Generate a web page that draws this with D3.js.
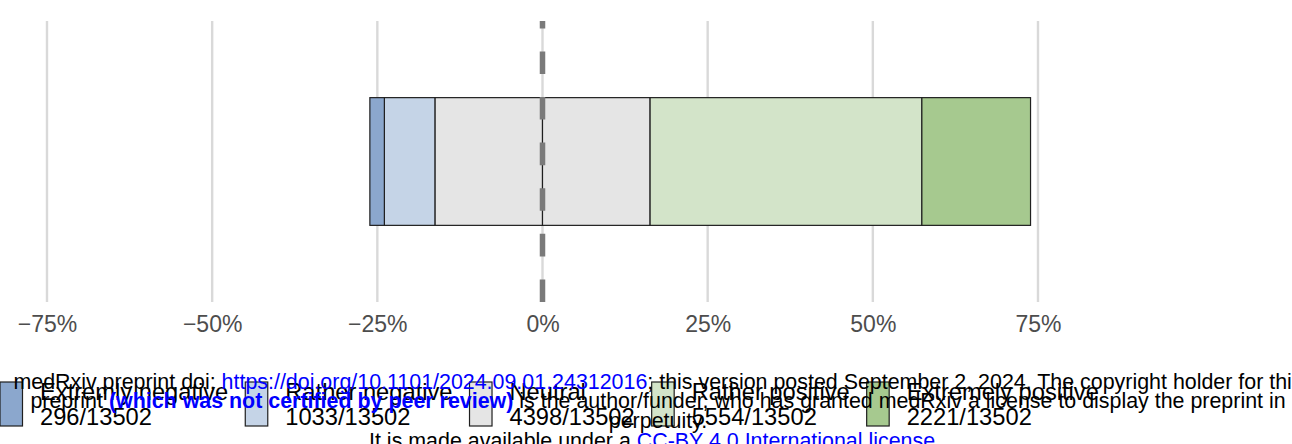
<!DOCTYPE html>
<html>
<head>
<meta charset="utf-8">
<script src="https://cdn.jsdelivr.net/npm/d3@7"></script>
<style>
html,body{margin:0;padding:0;background:#fff;}
svg{display:block;font-family:"Liberation Sans",Arial,sans-serif;}
</style>
</head>
<body>
<svg id="chart" width="1292" height="444"></svg>
<script>
const categories = ["Extremly negative","Rather negative","Neutral","Rather positive","Extremely positive"];
const counts = [296, 1033, 4398, 5554, 2221];
const total = 13502;
const colors = ["#8ba7cd","#c5d4e7","#e5e5e5","#d3e4c9","#a6c98f"];
const tickValues = [-75, -50, -25, 0, 25, 50, 75];
const groups = ["All"];

const svg = d3.select("#chart");
const W = 1292, H = 444;
const panel = {left: 47, right: 1038, top: 21, bottom: 302};

const x = d3.scaleLinear().domain([-75, 75]).range([panel.left, panel.right]);
const y = d3.scaleBand().domain(groups).range([panel.bottom, panel.top]).paddingOuter(0.6).paddingInner(0);

// percentages & segments (neutral split around 0)
const pct = counts.map(c => c / total * 100);
const half = pct[2] / 2;
const segs = [
  {k: 2, x0: -half, x1: 0},
  {k: 1, x0: -half - pct[1], x1: -half},
  {k: 0, x0: -half - pct[1] - pct[0], x1: -half - pct[1]},
  {k: 2, x0: 0, x1: half},
  {k: 3, x0: half, x1: half + pct[3]},
  {k: 4, x0: half + pct[3], x1: half + pct[3] + pct[4]}
];

// gridlines
svg.append("g").selectAll("line").data(tickValues).join("line")
  .attr("x1", d => x(d)).attr("x2", d => x(d))
  .attr("y1", panel.top).attr("y2", panel.bottom)
  .attr("stroke", "#d9d9d9").attr("stroke-width", 2.4);

// bars
svg.append("g").selectAll("rect").data(segs).join("rect")
  .attr("x", d => x(d.x0)).attr("width", d => x(d.x1) - x(d.x0))
  .attr("y", y("All")).attr("height", y.bandwidth())
  .attr("fill", d => colors[d.k]).attr("stroke", "#1f1f1f").attr("stroke-width", 1.2);

// dashed zero line (drawn from bottom up)
svg.append("line")
  .attr("x1", x(0)).attr("x2", x(0))
  .attr("y1", panel.bottom).attr("y2", panel.top)
  .attr("stroke", "#7a7a7a").attr("stroke-width", 5.5)
  .attr("stroke-dasharray", "22.6,23");

// axis
const axis = d3.axisBottom(x).tickValues(tickValues).tickSize(0).tickPadding(0)
  .tickFormat(d => (d < 0 ? "\u2212" : "") + Math.abs(d) + "%");
const ag = svg.append("g").attr("transform", `translate(0,${panel.bottom})`).call(axis);
ag.select(".domain").remove();
ag.selectAll("text").attr("fill", "#4d4d4d").attr("font-size", 23)
  .attr("font-family", '"Liberation Sans",Arial,sans-serif')
  .attr("dy", null).attr("y", 30);

// legend
const leg = svg.append("g");
let lx = 0;
categories.forEach((c, i) => {
  const g = leg.append("g");
  g.append("rect").attr("x", lx).attr("y", 382).attr("width", 22.5).attr("height", 44)
    .attr("fill", colors[i]).attr("stroke", "#1f1f1f").attr("stroke-width", 1.2);
  const t1 = g.append("text").attr("x", lx + 40).attr("y", 400).attr("font-size", 23.7).attr("fill", "#000").text(c);
  const t2 = g.append("text").attr("x", lx + 40).attr("y", 425).attr("font-size", 23.7).attr("fill", "#000").text(counts[i] + "/" + total);
  const w = Math.max(t1.node().getComputedTextLength(), t2.node().getComputedTextLength());
  lx = lx + 40 + w + 17;
});

// medRxiv watermark
const wm = svg.append("g").attr("text-anchor", "middle");
const cx = 658;
const lines = [
  [["medRxiv preprint doi: ", "#000", "normal"], ["https://doi.org/10.1101/2024.09.01.24312016", "#0000ff", "normal"], ["; this version posted September 2, 2024. The copyright holder for this", "#000", "normal"]],
  [["preprint ", "#000", "normal"], ["(which was not certified by peer review)", "#0000ff", "bold"], [" is the author/funder, who has granted medRxiv a license to display the preprint in", "#000", "normal"]],
  [["perpetuity.", "#000", "normal"]],
  [["It is made available under a ", "#000", "normal"], ["CC-BY 4.0 International license", "#0000ff", "normal"], [" .", "#000", "normal"]]
];
const baselines = [389, 408, 428, 448];
const texts = lines.map((parts, i) => {
  const t = wm.append("text").attr("x", cx).attr("y", baselines[i]).attr("font-size", 18);
  parts.forEach(p => t.append("tspan").attr("fill", p[1]).attr("font-weight", p[2]).text(p[0]));
  return t;
});
const w2 = texts[1].node().getComputedTextLength();
const fs = 18 * 1256 / w2;
texts.forEach(t => t.attr("font-size", fs));
</script>
</body>
</html>
